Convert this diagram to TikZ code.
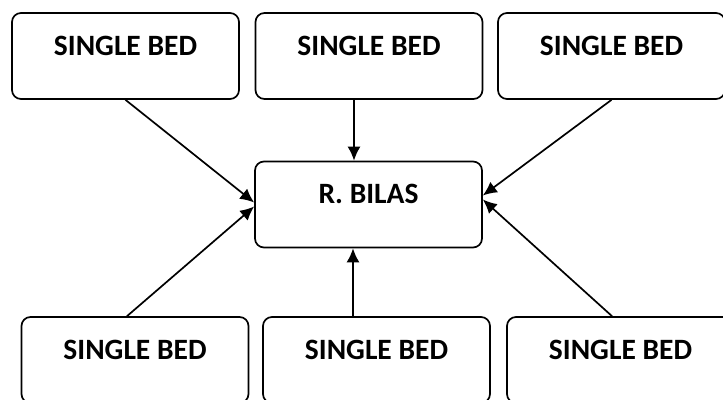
\documentclass[tikz,border=0pt]{standalone}
\usepackage{fontspec}
\setmainfont{Carlito}
\usetikzlibrary{positioning}
\usetikzlibrary{arrows.meta}

\begin{document}
\begin{tikzpicture}[x=1pt, y=-1pt, >={Latex[length=14pt,width=13pt]},
    bed/.style={draw, rounded corners=9pt, line width=1.7pt, minimum width=227pt,
        inner xsep=0pt, inner ysep=0pt, text height=42pt, text depth=44pt,
        font=\fontsize{29.5}{33}\selectfont\bfseries}]
    \useasboundingbox (0,0) rectangle (723,399);
    % room in the middle
    \node[bed] (bilas) at (368.5,204.5) {R. BILAS};
    % beds above
    \node[bed] (bedtl) at (125.5,56) {SINGLE BED};
    \node[bed] (bedtm) at (369,56) {SINGLE BED};
    \node[bed] (bedtr) at (611.5,56) {SINGLE BED};
    % beds below
    \node[bed] (bedbl) at (135,360) {SINGLE BED};
    \node[bed] (bedbm) at (376.5,360) {SINGLE BED};
    \node[bed] (bedbr) at (620.5,360) {SINGLE BED};
    \draw[->, line width=1.7pt] (bedtl.south) -- ([yshift=2pt]bilas.west);
    \draw[->, line width=1.7pt] ([xshift=-15pt]bedtm.south) -- ([xshift=-14.5pt]bilas.north);
    \draw[->, line width=1.7pt] (bedtr.south) -- ([yshift=9pt]bilas.east);
    \draw[->, line width=1.7pt] ([xshift=-8pt]bedbl.north) -- ([yshift=-2pt]bilas.west);
    \draw[->, line width=1.7pt] ([xshift=-23.5pt]bedbm.north) -- ([xshift=-15.5pt]bilas.south);
    \draw[->, line width=1.7pt] ([xshift=-8.5pt]bedbr.north) -- ([yshift=5pt]bilas.east);
\end{tikzpicture}
\end{document}
